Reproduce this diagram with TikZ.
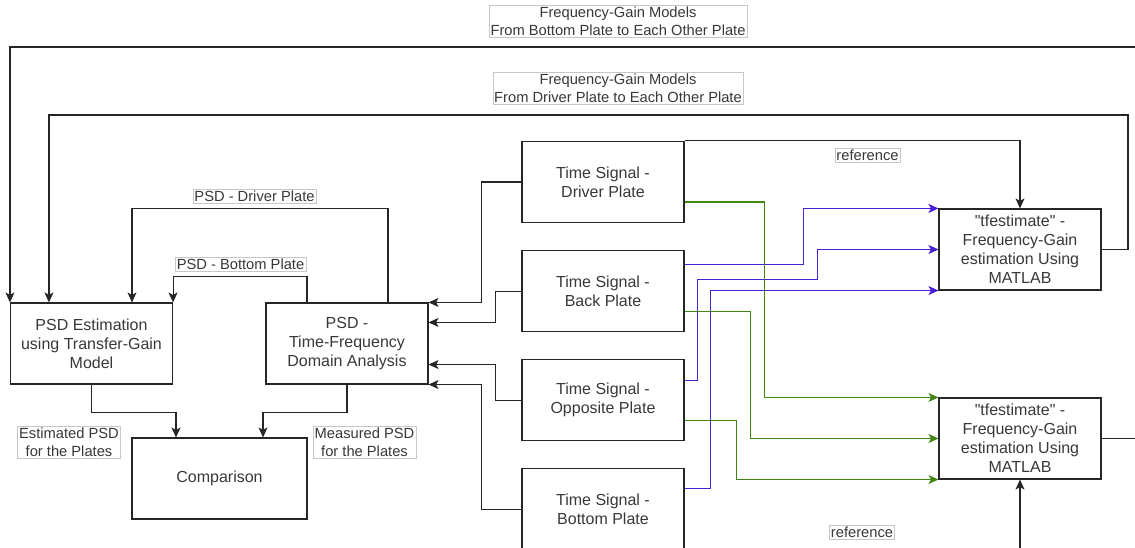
\documentclass[tikz,border=0pt]{standalone}
\usepackage{fontspec}
\newfontfamily\diagfont{Liberation Sans}
\usetikzlibrary{arrows.meta,positioning}
\definecolor{sigblue}{RGB}{72,30,214}
\definecolor{siggreen}{RGB}{66,134,20}

\begin{document}
\begin{tikzpicture}[
    x=1pt, y=1pt,
    font=\diagfont\fontsize{16}{19}\selectfont,
    block/.style={draw=black!85, line width=1.1pt, minimum width=162pt,
                  minimum height=81pt, align=center, text=black!78, inner sep=2pt},
    tag/.style={draw=black!22, fill=white, align=center, text=black!78,
                font=\diagfont\fontsize{14.7}{17.8}\selectfont, inner sep=1.5pt},
    arrow/.style={-{Stealth[length=10pt,width=9pt,inset=2.5pt]}, line width=1.1pt, black!85},
    bluearrow/.style={arrow, sigblue},
    greenarrow/.style={arrow, siggreen}
]
\useasboundingbox (0,0) rectangle (1135,548);

\node[block] (est) at (91.5,204.5) {PSD Estimation\\using Transfer-Gain\\Model};
\node[block] (tfa) at (347,204.5) {PSD -\\Time-Frequency\\Domain Analysis};
\node[block, minimum width=175pt] (comp) at (219.5,69.5) {Comparison};
\node[block] (driver) at (603,366) {Time Signal -\\Driver Plate};
\node[block, below=27pt of driver] (back) {Time Signal -\\Back Plate};
\node[block, below=27pt of back] (opposite) {Time Signal -\\Opposite Plate};
\node[block, below=27pt of opposite] (bottom) {Time Signal -\\Bottom Plate};
\node[block] (tfest1) at (1020,298.5)
    {"tfestimate" -\\Frequency-Gain\\estimation Using\\MATLAB};
\node[block] (tfest2) at (1020,109.5)
    {"tfestimate" -\\Frequency-Gain\\estimation Using\\MATLAB};

\node[tag] (lblbottom) at (618,526.5)
    {Frequency-Gain Models\\From Bottom Plate to Each Other Plate};
\node[tag] (lbldriver) at (618,459.5)
    {Frequency-Gain Models\\From Driver Plate to Each Other Plate};
\node[tag] (lblpsdd) at (254.5,352) {PSD - Driver Plate};
\node[tag] (lblpsdb) at (240.5,284) {PSD - Bottom Plate};
\node[tag] (lblest) at (69,106) {Estimated PSD\\for the Plates};
\node[tag] (lblmeas) at (364.5,106) {Measured PSD\\for the Plates};
\node[tag] (lblref1) at (867.5,393) {reference};
\node[tag] (lblref2) at (862,16) {reference};

\coordinate (outer) at (1145,501);
\coordinate (inner) at (1128,433);
\draw[arrow] (tfest2.east) -| (outer) -| (est.north west);
\draw[arrow] (tfest1.east) -| (inner) -| ([xshift=39pt]est.north west);

\draw[arrow] ([xshift=41pt]tfa.north) -- ++(0,94) -| ([xshift=40.5pt]est.north);
\draw[arrow] ([xshift=-40pt]tfa.north) -- ++(0,26) -| (est.north east);
\draw[arrow] (est.south) -- ++(0,-28) -| ([xshift=-43.5pt]comp.north);
\draw[arrow] (tfa.south) -- ++(0,-28) -| ([xshift=43.5pt]comp.north);

\draw[arrow] (driver.west) -- ++(-40,0) |- (tfa.north east);
\draw[arrow] (back.west) -- ++(-26,0) |- ([yshift=-20pt]tfa.north east);
\draw[arrow] (opposite.west) -- ++(-26,0) |- ([yshift=20pt]tfa.south east);
\draw[arrow] (bottom.west) -- ++(-40,0) |- (tfa.south east);

\draw[arrow] (driver.north east) -| (tfest1.north);
\draw[arrow] (bottom.south east) -| (tfest2.south);

\draw[bluearrow] ([yshift=27pt]back.east) -| ([xshift=-135pt]tfest1.north west)
    -- (tfest1.north west);
\draw[bluearrow] ([yshift=20pt]opposite.east) -- ++(13,0) -- ++(0,101)
    -| ([xshift=-121pt]tfest1.west) -- (tfest1.west);
\draw[bluearrow] ([yshift=21pt]bottom.east) -- ++(26,0) |- (tfest1.south west);

\draw[greenarrow] ([yshift=-20pt]driver.east) -| ([xshift=-174pt]tfest2.north west)
    -- (tfest2.north west);
\draw[greenarrow] ([yshift=-20pt]back.east) -| ([xshift=-188pt]tfest2.west)
    -- (tfest2.west);
\draw[greenarrow] ([yshift=-20pt]opposite.east) -| ([xshift=-202pt]tfest2.south west)
    -- (tfest2.south west);
\end{tikzpicture}
\end{document}
